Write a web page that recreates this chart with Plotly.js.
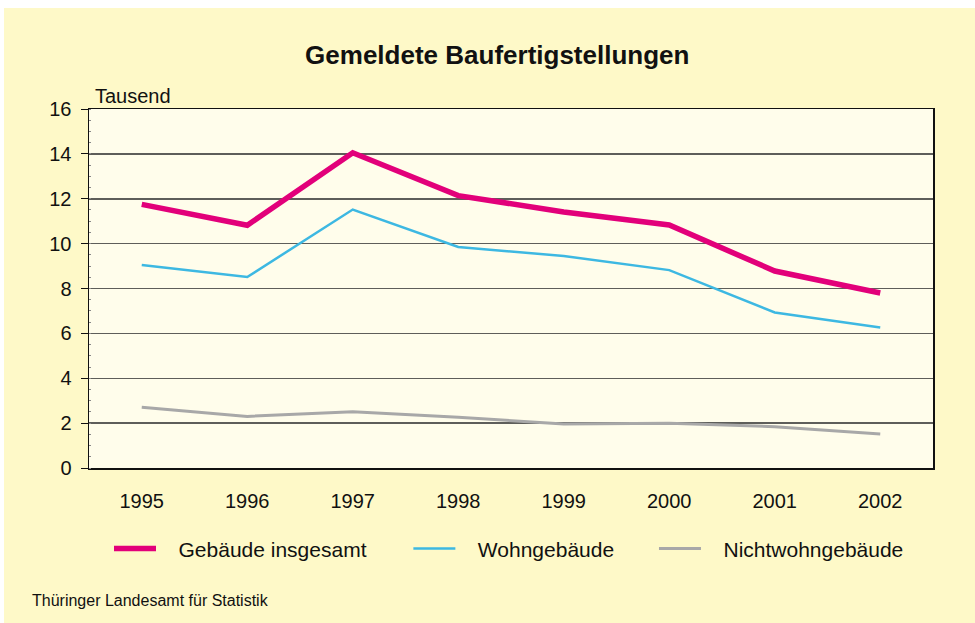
<!DOCTYPE html>
<html>
<head>
<meta charset="utf-8">
<script src="https://cdn.plot.ly/plotly-3.0.1.min.js"></script>
<style>
html,body{margin:0;padding:0;background:#ffffff;}
#chart{position:absolute;left:4px;top:8px;width:971px;height:615px;}
</style>
</head>
<body>
<div id="chart"></div>
<script>
var years = ['1995','1996','1997','1998','1999','2000','2001','2002'];
var gebaeudeInsgesamt = [11.75, 10.82, 14.05, 12.14, 11.41, 10.83, 8.78, 7.80];
var wohngebaeude = [9.05, 8.51, 11.52, 9.85, 9.45, 8.82, 6.93, 6.26];
var nichtwohngebaeude = [2.71, 2.30, 2.51, 2.26, 1.96, 1.99, 1.84, 1.52];
var seriesNames = ['Gebäude insgesamt', 'Wohngebäude', 'Nichtwohngebäude'];
var yTicks = [0, 2, 4, 6, 8, 10, 12, 14, 16];

var font = 'Liberation Sans, Arial, sans-serif';
var pad = '\u00A0\u00A0\u00A0';

var traces = [
  {x: years, y: gebaeudeInsgesamt, name: pad + seriesNames[0], type: 'scatter', mode: 'lines',
   line: {color: '#E2007A', width: 5.5}, legend: 'legend'},
  {x: years, y: wohngebaeude, name: pad + seriesNames[1], type: 'scatter', mode: 'lines',
   line: {color: '#3DB8E2', width: 2.5}, legend: 'legend2'},
  {x: years, y: nichtwohngebaeude, name: pad + seriesNames[2], type: 'scatter', mode: 'lines',
   line: {color: '#A8A8A8', width: 3}, legend: 'legend3'}
];

var legendBase = {orientation: 'h', yanchor: 'middle', xanchor: 'left', y: -0.225,
  bgcolor: 'rgba(0,0,0,0)', borderwidth: 0, itemwidth: 42,
  font: {family: font, size: 21, color: '#111'}};

function lg(x){ var o = Object.assign({}, legendBase); o.x = x; return o; }

var layout = {
  width: 971, height: 615,
  paper_bgcolor: '#FEF9C8',
  plot_bgcolor: '#FFFDEB',
  margin: {l: 85, r: 42, t: 101, b: 155},
  font: {family: font, color: '#111'},
  showlegend: true,
  title: {text: '<b>Gemeldete Baufertigstellungen</b>', xref: 'container', yref: 'container',
          x: 0.508, y: 0.924, xanchor: 'center', yanchor: 'middle',
          font: {family: font, size: 26, color: '#111'}},
  xaxis: {type: 'category', range: [-0.5, 7.5], showline: true, mirror: true,
          linecolor: '#111', linewidth: 1.5, ticks: '', showgrid: false, zeroline: false,
          ticklabelstandoff: 14, tickfont: {family: font, size: 20, color: '#111'}},
  yaxis: {range: [0, 16], tickvals: yTicks, showline: true, mirror: true,
          linecolor: '#111', linewidth: 1.5, ticks: 'outside', ticklen: 7, tickcolor: '#111',
          tickwidth: 1, showgrid: true, gridcolor: '#5e5e5a', gridwidth: 1.5, zeroline: false,
          ticklabelstandoff: 5,
          minor: {ticks: 'inside', ticklen: 2, dtick: 0.5, tickcolor: '#888', showgrid: false},
          tickfont: {family: font, size: 20, color: '#111'}},
  legend: lg(0.0237),
  legend2: lg(0.3784),
  legend3: lg(0.6694),
  annotations: [
    {text: 'Tausend', xref: 'paper', yref: 'paper', x: 0, y: 1, xanchor: 'left', yanchor: 'bottom',
     xshift: 4, yshift: 0, showarrow: false, font: {family: font, size: 20, color: '#111'}},
    {text: 'Thüringer Landesamt für Statistik', xref: 'paper', yref: 'paper',
     x: -0.0699, y: -0.368, xanchor: 'left', yanchor: 'middle', showarrow: false,
     font: {family: font, size: 16, color: '#111'}}
  ]
};

Plotly.newPlot('chart', traces, layout, {staticPlot: true, displayModeBar: false});
</script>
</body>
</html>
